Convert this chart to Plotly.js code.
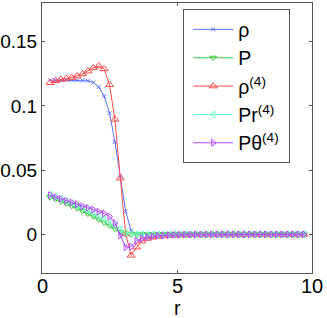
<!DOCTYPE html>
<html>
<head>
<meta charset="utf-8">
<script src="https://cdn.plot.ly/plotly-3.0.1.min.js"></script>
<style>
html,body{margin:0;padding:0;background:#fff;}
#chart{width:327px;height:318px;}
</style>
</head>
<body>
<div id="chart"></div>
<script>
// radial grid
var r = [0.3,0.5,0.7,0.9,1.1,1.3,1.5,1.7,1.9,2.1,2.3,2.5,2.7,2.9,3.1,3.3,3.5,3.7,3.9,4.1,4.3,4.5,4.7,4.9,
         5.1,5.3,5.5,5.7,5.9,6.1,6.3,6.5,6.7,6.9,7.1,7.3,7.5,7.7,7.9,8.1,8.3,8.5,8.7,8.9,9.1,9.3,9.5,9.7];

var rho = [0.1200,0.1200,0.1200,0.1200,0.1200,0.1199,0.1198,0.1195,0.1182,0.1148,0.1076,0.0943,0.0720,0.0450,0.0179,0.0030,
           0.0005,0.0002,0.0001,0.0001,0,0,0,0, 0,0,0,0,0,0,0,0, 0,0,0,0,0,0,0,0, 0,0,0,0,0,0,0,0];

var P = [0.0290,0.0274,0.0257,0.0240,0.0222,0.0203,0.0183,0.0162,0.0140,0.0117,0.0093,0.0068,0.0043,0.0020,0.0006,0.0001,
         0,0,0,0,0,0,0,0, 0,0,0,0,0,0,0,0, 0,0,0,0,0,0,0,0, 0,0,0,0,0,0,0,0];

var rho4 = [0.1180,0.1195,0.1205,0.1213,0.1220,0.1232,0.1248,0.1270,0.1295,0.1310,0.1288,0.1165,0.0895,0.0438,0.0005,-0.0163,
            -0.0099,-0.0052,-0.0032,-0.0022,-0.0016,-0.0012,-0.0009,-0.0007, -0.0005,-0.0004,-0.0003,-0.0002,-0.0002,-0.0001,-0.0001,-0.0001,
            0,0,0,0,0,0,0,0, 0,0,0,0,0,0,0,0];

var Pr4 = [0.0310,0.0295,0.0279,0.0262,0.0244,0.0225,0.0205,0.0185,0.0163,0.0140,0.0116,0.0092,0.0066,0.0038,0.0015,0.0005,
           0.0002,0.0001,0,0,0,0,0,0, 0,0,0,0,0,0,0,0, 0,0,0,0,0,0,0,0, 0,0,0,0,0,0,0,0];

var Pt4 = [0.0305,0.0290,0.0276,0.0262,0.0248,0.0234,0.0220,0.0207,0.0193,0.0178,0.0163,0.0140,0.0088,-0.0008,-0.0099,-0.0095,
           -0.0050,-0.0030,-0.0020,-0.0014,-0.0010,-0.0007,-0.0005,-0.0004, -0.0003,-0.0002,-0.0002,-0.0001,-0.0001,-0.0001,0,0,
           0,0,0,0,0,0,0,0, 0,0,0,0,0,0,0,0];

var names = ['ρ','P','ρ<sup>(4)</sup>','Pr<sup>(4)</sup>','Pθ<sup>(4)</sup>'];
var xTickVals = [0, 5, 10];
var xTickText = ['0', '5', '10'];
var yTickVals = [0, 0.05, 0.1, 0.15];
var yTickText = ['0', '0.05', '0.1', '0.15'];

var series = [rho, P, rho4, Pr4, Pt4];
var colors = ['#5b74ff','#3cc83c','#ff4c4c','#70ffc0','#b04cff'];
var symbols = ['x-thin-open','triangle-down-open','triangle-up-open','triangle-left-open','triangle-right-open'];
var sizes = [4,6,7,6,6];

var traces = series.map(function(s,k){
  return {
    x: r, y: s, name: names[k] + '\u00a0', type: 'scatter', mode: 'lines+markers',
    line: {color: colors[k], width: 1},
    marker: {symbol: symbols[k], size: sizes[k], color: colors[k], line: {color: colors[k], width: 1}}
  };
});

var annotations = xTickVals.map(function(v,i){
  return {text: xTickText[i], xref: 'x', yref: 'paper', x: v, y: 0, xanchor: 'center', yanchor: 'top',
          yshift: 0, showarrow: false, font: {size: 20}};
});
annotations.push({
  text: 'r', xref: 'paper', yref: 'paper', x: 0.5, y: 0, xanchor: 'center', yanchor: 'top',
  yshift: -22, showarrow: false, font: {size: 20}
});

var layout = {
  width: 327, height: 318,
  margin: {l: 42, r: 15, t: 3, b: 45},
  paper_bgcolor: '#fff', plot_bgcolor: '#fff',
  font: {family: 'Liberation Sans, Arial, sans-serif', size: 19, color: '#000'},
  showlegend: true,
  legend: {
    x: 0.523, y: 0.977, xanchor: 'left', yanchor: 'top',
    bgcolor: '#fff', bordercolor: '#555', borderwidth: 1,
    font: {size: 19.5}, tracegroupgap: 0, itemwidth: 40, indentation: 4
  },
  xaxis: {
    range: [0, 10], tickvals: xTickVals, showticklabels: false,
    ticks: 'inside', ticklen: 3, tickcolor: '#555',
    showline: true, linecolor: '#555', linewidth: 1, mirror: 'ticks',
    showgrid: false, zeroline: false
  },
  yaxis: {
    range: [-0.03, 0.18], tickvals: yTickVals, ticktext: yTickText,
    ticks: 'inside', ticklen: 3, tickcolor: '#555',
    showline: true, linecolor: '#555', linewidth: 1, mirror: 'ticks',
    showgrid: false, zeroline: false,
    tickfont: {size: 19}
  },
  annotations: annotations
};

Plotly.newPlot('chart', traces, layout, {displayModeBar: false, staticPlot: true});
</script>
</body>
</html>
